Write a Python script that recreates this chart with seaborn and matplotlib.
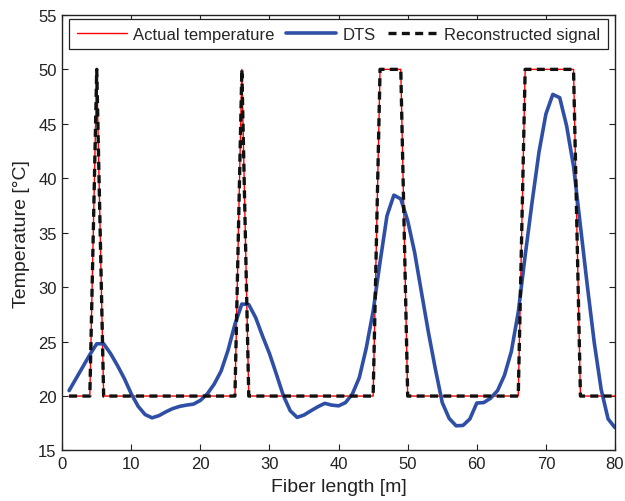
import matplotlib
matplotlib.use("Agg")
import matplotlib.pyplot as plt
import seaborn as sns
import pandas as pd

sns.set_theme(style="white")
plt.rcParams['font.family'] = ['Liberation Sans', 'DejaVu Sans']

# Actual temperature (step profile breakpoints)
actual_x = [1, 4, 5, 6, 25, 26, 27, 45, 46, 49, 50, 66, 67, 74, 75, 80]
actual_t = [20, 20, 50, 20, 20, 50, 20, 20, 50, 50, 20, 20, 50, 50, 20, 20]

# Reconstructed signal (same as actual)
recon_x = [1, 4, 5, 6, 25, 26, 27, 45, 46, 49, 50, 66, 67, 74, 75, 80]
recon_t = [20, 20, 50, 20, 20, 50, 20, 20, 50, 50, 20, 20, 50, 50, 20, 20]

# DTS measurement
dts_x = list(range(1, 81))
dts_t = [20.5, 21.6, 22.7, 23.8, 24.8, 24.8, 23.9, 22.8, 21.6, 20.2,
         19.05, 18.3, 18.0, 18.2, 18.55, 18.85, 19.05, 19.17, 19.26, 19.6,
         20.2, 21.1, 22.3, 24.2, 26.6, 28.45, 28.4, 27.2, 25.5, 23.9,
         22.0, 20.05, 18.65, 18.04, 18.26, 18.65, 19.02, 19.33, 19.17, 19.1,
         19.4, 20.2, 21.7, 24.4, 27.8, 32.3, 36.55, 38.45, 38.1, 36.1,
         33.2, 29.5, 25.85, 22.5, 19.4, 17.95, 17.27, 17.3, 17.9, 19.36,
         19.4, 19.8, 20.5, 21.9, 24.1, 27.7, 32.9, 37.8, 42.4, 45.9,
         47.7, 47.4, 44.8, 41.1, 35.6, 30.1, 24.9, 20.6, 17.9, 17.1]

df_actual = pd.DataFrame({"x": actual_x, "t": actual_t})
df_recon = pd.DataFrame({"x": recon_x, "t": recon_t})
df_dts = pd.DataFrame({"x": dts_x, "t": dts_t})

fig = plt.figure(figsize=(6.25, 5.02), dpi=100)
ax = fig.add_axes([0.0995, 0.1006, 0.8845, 0.8677])

sns.lineplot(data=df_actual, x="x", y="t", ax=ax, color="#ff0000", lw=1.0,
             estimator=None, sort=False, label="Actual temperature")
sns.lineplot(data=df_dts, x="x", y="t", ax=ax, color="#2f4fa6", lw=2.6,
             estimator=None, sort=False, label="DTS")
sns.lineplot(data=df_recon, x="x", y="t", ax=ax, color="#111111", lw=2.4,
             estimator=None, sort=False, label="Reconstructed signal",
             linestyle=(0, (2.4, 1.6)))

ax.set_xlim(0, 80)
ax.set_ylim(15, 55)
ax.set_xticks(range(0, 81, 10))
ax.set_yticks(range(15, 56, 5))
ax.tick_params(direction="in", length=4, width=0.8, top=True, right=True,
               bottom=True, left=True, labelsize=12, colors="#222222",
               pad=4)
for s in ax.spines.values():
    s.set_color("#222222")
    s.set_linewidth(1.0)
ax.set_xlabel("Fiber length [m]", fontsize=14, labelpad=5, color="#222222")
ax.set_ylabel("Temperature [°C]", fontsize=14, labelpad=6, color="#222222")

leg = ax.legend(loc="upper center", ncol=3, fontsize=12, frameon=True,
                fancybox=False, edgecolor="#222222", framealpha=1,
                handlelength=3.0, columnspacing=0.7, handletextpad=0.4,
                borderpad=0.45, borderaxespad=0.25)
leg.get_frame().set_linewidth(0.9)

fig.savefig("out.png", dpi=100)
